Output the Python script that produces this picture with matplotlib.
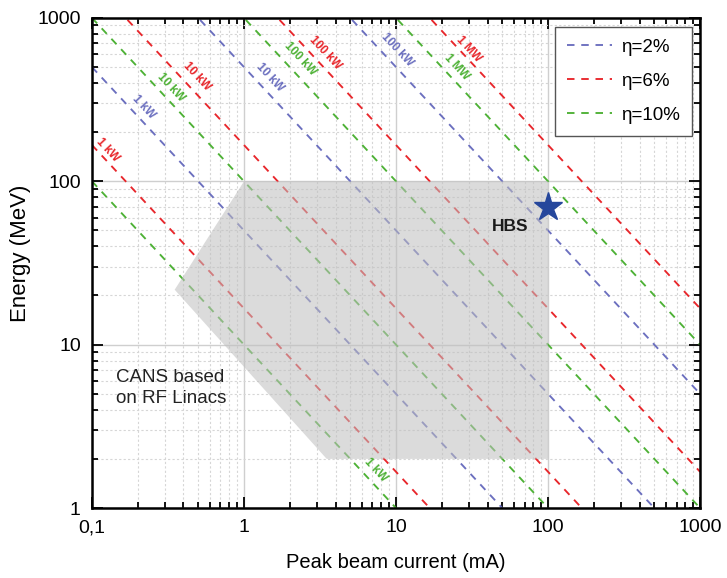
import numpy as np
import matplotlib
matplotlib.use('Agg')
import matplotlib.pyplot as plt
from matplotlib.ticker import FixedLocator, FixedFormatter, LogLocator, NullFormatter

plt.rcParams['font.family'] = ['Liberation Sans', 'DejaVu Sans']

# ---------------- data ----------------
# efficiency (%) and average power levels (kW) drawn for each
eta_pct = [2, 6, 10]
eta_colors = ['#6b6fbf', '#e8262b', '#4db135']
power_kw = {2: [1, 10, 100],
            6: [1, 10, 100, 1000],
            10: [1, 10, 100, 1000]}

# labels on the lines (text, current mA, energy MeV, efficiency)
lab_text = ['1 kW', '10 kW', '100 kW',
            '1 kW', '10 kW', '100 kW', '1 MW',
            '10 kW', '100 kW', '1 MW', '1 kW']
lab_x = [0.22, 1.48, 10.2,
         0.127, 0.49, 3.4, 30.0,
         0.33, 2.33, 25.0, 7.3]
lab_y = [285, 435, 640,
         155, 440, 615, 640,
         375, 560, 500, 1.7]
lab_eta = [2, 2, 2,
           6, 6, 6, 6,
           10, 10, 10, 10]

# CANS region (current mA, energy MeV)
cans_x = [1.0, 100, 100, 3.5, 0.35]
cans_y = [100, 100, 2, 2, 21.7]

# HBS point
hbs_x = 100
hbs_y = 70

i_range = [0.1, 1000]

# ---------------- plot ----------------
fig = plt.figure(figsize=(7.27, 5.78), dpi=100)
ax = fig.add_axes([0.1265, 0.121, 0.8365, 0.848])
ax.set_xscale('log')
ax.set_yscale('log')

for eta, col in zip(eta_pct, eta_colors):
    for k, p in enumerate(power_kw[eta]):
        e_vals = [p / (eta / 100.0) / i for i in i_range]
        ax.plot(i_range, e_vals, color=col, lw=1.35, dashes=(4.0, 3.6),
                label='\u03b7=%d%%' % eta if k == 0 else None, zorder=2)

ax.fill(cans_x, cans_y, color='#bfbfbf', alpha=0.56, lw=0, zorder=3)

for t, x, y, eta in zip(lab_text, lab_x, lab_y, lab_eta):
    col = eta_colors[eta_pct.index(eta)]
    ax.text(x, y, t, color=col, fontsize=8.5, fontweight='bold',
            rotation=-47, ha='center', va='center', rotation_mode='anchor', zorder=4)

ax.plot(hbs_x, hbs_y, marker='*', color='#26479c', markersize=21, zorder=6,
        clip_on=False)
ax.text(56, 53, 'HBS', fontsize=12.5, fontweight='bold', color='#1a1a1a',
        ha='center', va='center', zorder=6)
ax.text(0.143, 5.45, 'CANS based\non RF Linacs', fontsize=13.5, color='#222222',
        ha='left', va='center', linespacing=1.3, zorder=6)

ax.set_xlim(0.1, 1000)
ax.set_ylim(1, 1000)

ax.xaxis.set_major_locator(FixedLocator([0.1, 1, 10, 100, 1000]))
ax.xaxis.set_major_formatter(FixedFormatter(['0,1', '1', '10', '100', '1000']))
ax.yaxis.set_major_locator(FixedLocator([1, 10, 100, 1000]))
ax.yaxis.set_major_formatter(FixedFormatter(['1', '10', '100', '1000']))
for a in (ax.xaxis, ax.yaxis):
    a.set_minor_locator(LogLocator(base=10, subs=np.arange(2, 10)))
    a.set_minor_formatter(NullFormatter())

ax.tick_params(which='both', direction='in', top=True, right=True,
               width=1.3, labelsize=14, colors='black', pad=8)
ax.tick_params(which='major', length=8)
ax.tick_params(which='minor', length=4)
for s in ax.spines.values():
    s.set_linewidth(1.8)

ax.grid(which='major', color='#cfcfcf', lw=1.0, ls='-', zorder=0)
ax.grid(which='minor', color='#d6d6d6', lw=0.8, ls=(0, (2, 2)), zorder=0)
ax.set_axisbelow(True)

ax.set_xlabel('Peak beam current (mA)', fontsize=14.5, labelpad=12)
ax.set_ylabel('Energy (MeV)', fontsize=16, labelpad=8)
ax.yaxis.set_label_coords(-0.1, 0.52)

leg = ax.legend(loc='upper right', fontsize=13.5, handlelength=2.4,
                handletextpad=0.5, borderpad=0.65, labelspacing=0.9,
                borderaxespad=0, fancybox=False,
                edgecolor='#555555', framealpha=1,
                bbox_to_anchor=(0.987, 0.982))
leg.get_frame().set_linewidth(1.0)

fig.savefig('out.png', dpi=100)
